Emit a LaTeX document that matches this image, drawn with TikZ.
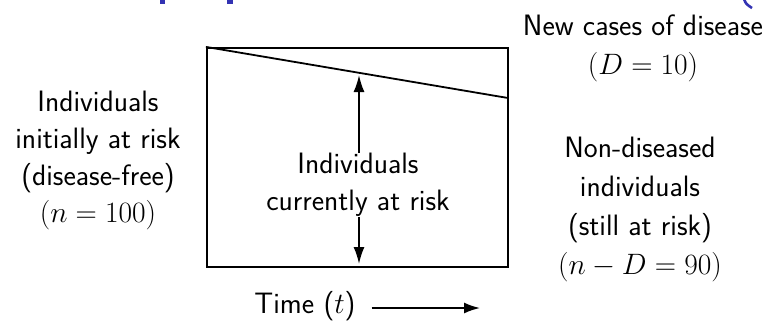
\RequirePackage{fix-cm}
\documentclass[tikz,border=0pt]{standalone}
\usetikzlibrary{arrows.meta,calc}
\definecolor{titleblue}{RGB}{51,51,179}
\tikzset{
  lbl/.style={font=\sffamily\fontsize{29.5}{37}\selectfont, align=center, inner sep=0pt, anchor=north},
  lblwide/.style={lbl, font=\sffamily\fontsize{29.5}{39}\selectfont},
  frame/.style={draw, line width=2.2pt},
  curve/.style={line width=1.8pt},
  arr/.style={line width=1.8pt, -{Latex[length=17pt,width=11pt]}},
  tarr/.style={line width=1.8pt, -{Latex[length=16pt,width=11pt]}},
  frag/.style={fill=titleblue},
}
\begin{document}
\begin{tikzpicture}[x=1pt,y=-1pt]
\useasboundingbox (0,0) rectangle (773,322);
% fragments of a cut-off title
\fill[frag] (160,0) rectangle (165,3.5);
\fill[frag] (227,0) rectangle (233,3.5);
\draw[titleblue, line width=2.6pt] (744,-1) .. controls (746,4) .. (752,8);
% box and curve
\node[frame, minimum width=301pt, minimum height=219pt, inner sep=0pt] (box) at (357.5,157.5) {};
\coordinate (ce) at (508,98);
\draw[curve] (box.north west) -- (ce);
% middle label and arrows
\node[lbl] (mid) at (358,153) {Individuals\\currently at risk};
\coordinate (ctop) at (359,75);
\coordinate (cbot) at (359,264);
\draw[arr] (mid.north -| ctop) -- (ctop);
\draw[arr] (mid.south -| cbot) -- (cbot);
% left label
\node[lbl] (init) at (98,91) {Individuals\\initially at risk\\(disease-free)\\$(n=100)$};
% right labels
\node[lblwide] (new) at (643,15) {New cases of disease\\$(D=10)$};
\node[lblwide] (non) at (640,137) {Non-diseased\\individuals\\(still at risk)\\$(n-D=90)$};
% time axis
\node[lbl, anchor=base] (time) at (305,313) {Time ($t$)};
\coordinate (tend) at (480,308);
\draw[tarr] ([xshift=16pt]time.base east |- tend) -- (tend);
\end{tikzpicture}
\end{document}
